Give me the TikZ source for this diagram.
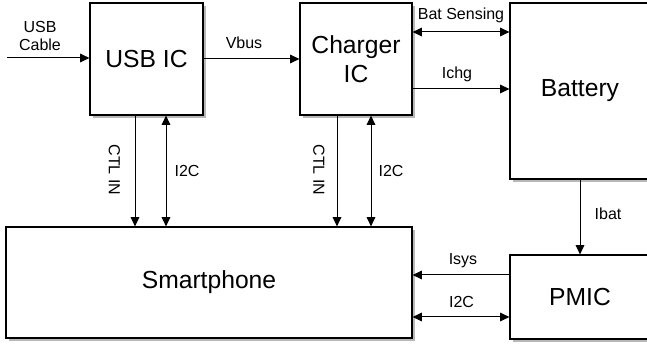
\documentclass[tikz,border=0pt]{standalone}
\usepackage{fontspec}
\setmainfont{Liberation Sans}
\usetikzlibrary{arrows.meta,shadows}
\tikzset{
  box/.style={draw, line width=0.9pt, fill=white, inner sep=0pt, align=center,
    font=\fontsize{18.5}{22}\selectfont,
    drop shadow={shadow xshift=2.2pt, shadow yshift=-2.2pt, fill=black!28, opacity=1}},
  lbl/.style={font=\fontsize{12}{14}\selectfont, inner sep=0pt, align=center},
  arr/.style={line width=0.75pt, -{Triangle[length=7pt,width=6.5pt]}},
  darr/.style={line width=0.75pt, {Triangle[length=7pt,width=6.5pt]}-{Triangle[length=7pt,width=6.5pt]}}
}
\begin{document}
\begin{tikzpicture}[x=0.75pt,y=-0.75pt]
\useasboundingbox (0,0) rectangle (647,345);
\clip (0,0) rectangle (647,345);
% boxes
\node[box, minimum width=84.75pt, minimum height=84pt] (usb) at (146.5,59) {USB IC};
\node[box, minimum width=84pt, minimum height=84pt] (chg) at (356,59) {Charger\\IC};
\node[box, minimum width=105pt, minimum height=132pt] (bat) at (580,91) {\raisebox{-1.5pt}{Battery}};
\node[box, minimum width=105pt, minimum height=63pt] (pmic) at (580,297) {PMIC};
\node[box, minimum width=304.5pt, minimum height=83.25pt] (sp) at (209,282.5) {\raisebox{-1.5pt}{Smartphone}};
% helper coordinates
\coordinate (cablein) at (7,58);
\coordinate (ysense) at (0,32);
\coordinate (yichg) at (0,89);
\coordinate (yisys) at (0,275);
\coordinate (yi2c) at (0,317);
\coordinate (xctl1) at (135,0);
\coordinate (xi2c1) at (166,0);
\coordinate (xctl2) at (337,0);
\coordinate (xi2c2) at (371,0);
% connectors
\draw[arr] (cablein) -- (cablein -| usb.west);
\draw[arr] (usb.east) -- (chg.west);
\draw[darr] (chg.east |- ysense) -- (bat.west |- ysense);
\draw[arr] (chg.east |- yichg) -- (bat.west |- yichg);
\draw[arr] (bat.south) -- (pmic.north);
\draw[arr] (pmic.west |- yisys) -- (sp.east |- yisys);
\draw[darr] (pmic.west |- yi2c) -- (sp.east |- yi2c);
\draw[arr] (xctl1 |- usb.south) -- (xctl1 |- sp.north);
\draw[darr] (xi2c1 |- usb.south) -- (xi2c1 |- sp.north);
\draw[arr] (xctl2 |- chg.south) -- (xctl2 |- sp.north);
\draw[darr] (xi2c2 |- chg.south) -- (xi2c2 |- sp.north);
% labels
\node[lbl] (lcable) at (40,36) {USB\\Cable};
\node[lbl] (lvbus) at (244,43) {Vbus};
\node[lbl] (lsense) at (461,15.5) {Bat Sensing};
\node[lbl] (lichg) at (457,74) {Ichg};
\node[lbl] (libat) at (608,214) {Ibat};
\node[lbl] (lisys) at (463,261) {Isys};
\node[lbl] (li2cp) at (461.5,302) {I2C};
\node[lbl, rotate=-90] (lctl1) at (114.5,170) {CTL IN};
\node[lbl] (li2c1) at (187,171) {I2C};
\node[lbl, rotate=-90] (lctl2) at (319,170) {CTL IN};
\node[lbl] (li2c2) at (391,171) {I2C};
\end{tikzpicture}
\end{document}
